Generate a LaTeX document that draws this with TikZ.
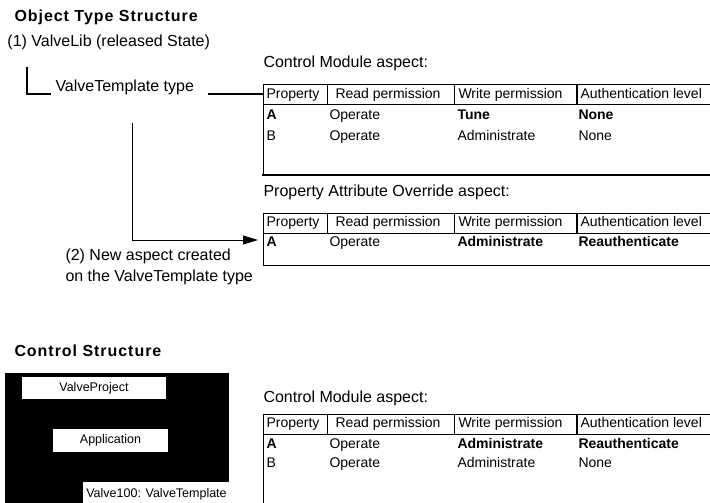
\documentclass[tikz,border=0pt]{standalone}
\usepackage{fontspec}
\setmainfont{Liberation Sans}
\newfontfamily\headfont[LetterSpace=6]{Liberation Sans}
\usetikzlibrary{arrows.meta,positioning,calc}
\definecolor{ink}{HTML}{000000}
\definecolor{paper}{HTML}{FFFFFF}

\begin{document}
\begin{tikzpicture}[x=1pt,y=-1pt,line width=1pt,
  ttl/.style={anchor=west,inner sep=0pt,text height=12pt,text depth=3pt,font=\headfont\fontsize{16}{19}\selectfont\bfseries},
  lbl/.style={anchor=west,inner sep=0pt,text height=11.5pt,text depth=3.5pt,font=\fontsize{16}{19}\selectfont},
  cell/.style={anchor=west,inner sep=0pt,text height=10pt,text depth=3pt,font=\fontsize{14}{16}\selectfont},
  bcell/.style={cell,font=\fontsize{14}{16}\selectfont\bfseries},
  cbox/.style={fill=paper,inner sep=0pt,font=\fontsize{12.5}{15}\selectfont}]
  \useasboundingbox (0,0) rectangle (710,503);

  % Object type structure
  \node[ttl] (otitle) at (14,17) {Object Type Structure};
  \node[lbl] (lib) at (7,43) {(1) ValveLib (released State)};
  \node[lbl] (vtt) at (55,88) {ValveTemplate type};
  \coordinate (elb) at (27,67);
  \draw[line width=2pt] (elb) |- ([xshift=-4pt,yshift=-2pt]vtt.base west);

  % Table headers
  \foreach \nm/\top in {cma/85, pao/213, cmb/414} {
    \coordinate (\nm) at (263,\top);
    \draw (263,\top) -- (712,\top);
    \draw (263,\top+20) -- (712,\top+20);
    \draw (327,\top) -- (327,\top+20);
    \draw (454,\top) -- (454,\top+20);
    \draw[line width=2pt] (577,\top) -- (577,\top+20);
    \node[cell] (\nm-prop) at (266,\top+10) {Property};
    \node[cell] (\nm-read) at (335,\top+10) {Read permission};
    \node[cell] (\nm-write) at (458,\top+10) {Write permission};
    \node[cell] (\nm-auth) at (580,\top+10) {Authentication level};
  }

  % Control Module aspect (type)
  \node[lbl] (cmalbl) at (263,63) {Control Module aspect:};
  \draw (cma) -- (263,175);
  \draw[line width=2pt] (262,175) -- (712,175);
  \node[bcell] (cma-a) at (266,116) {A};
  \node[cell] at (329,116) {Operate};
  \node[bcell] at (457,116) {Tune};
  \node[bcell] at (578,116) {None};
  \node[cell] (cma-b) at (266,137) {B};
  \node[cell] at (329,137) {Operate};
  \node[cell] at (457,137) {Administrate};
  \node[cell] at (578,137) {None};
  \draw[line width=2pt] ([xshift=14pt,yshift=-2pt]vtt.base east) -- ([yshift=-2pt]vtt.base -| cma);

  % Property Attribute Override aspect
  \node[lbl] (paolbl) at (263,192) {Property Attribute Override aspect:};
  \draw (pao) -- (263,265) -- (712,265);
  \node[bcell] (pao-a) at (266,243) {A};
  \node[cell] at (329,243) {Operate};
  \node[bcell] at (457,243) {Administrate};
  \node[bcell] at (578,243) {Reauthenticate};
  \coordinate (drop) at (132,123);
  \draw[-{Triangle[length=15pt,width=9pt]}] (drop) |- ([xshift=-8pt,yshift=3pt]pao-a.west);
  \node[lbl] (newasp) at (65,256) {(2) New aspect created};
  \node[lbl] (newasp2) at (65,277) {on the ValveTemplate type};

  % Control structure
  \node[ttl] (ctitle) at (14,352) {Control Structure};
  \fill[ink] (5,373) rectangle (229,505);
  \node[cbox,minimum width=144pt,minimum height=22pt] (proj) at (94,388) {ValveProject};
  \node[cbox,minimum width=115pt,minimum height=23pt] (app) at (110.5,440.5) {Application};
  \node[cbox,minimum width=147pt,minimum height=24pt] (valve) at (156.5,494) {Valve100: ValveTemplate};

  % Control Module aspect (instance)
  \node[lbl] (cmblbl) at (263,398) {Control Module aspect:};
  \draw (cmb) -- (263,505);
  \node[bcell] (cmb-a) at (266,445) {A};
  \node[cell] at (329,445) {Operate};
  \node[bcell] at (457,445) {Administrate};
  \node[bcell] at (578,445) {Reauthenticate};
  \node[cell] (cmb-b) at (266,464) {B};
  \node[cell] at (329,464) {Operate};
  \node[cell] at (457,464) {Administrate};
  \node[cell] at (578,464) {None};
\end{tikzpicture}
\end{document}
